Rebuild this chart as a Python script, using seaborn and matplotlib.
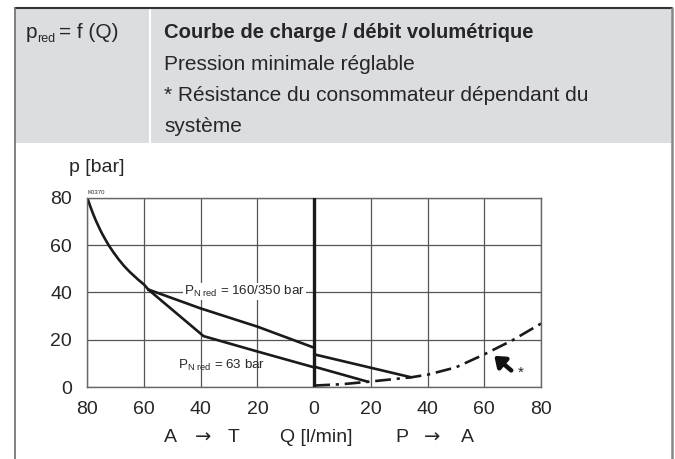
import matplotlib
matplotlib.use("Agg")
import matplotlib.pyplot as plt
import seaborn as sns
from matplotlib.patches import Rectangle
from matplotlib.lines import Line2D

# curve data (Q in l/min, A->T side negative, p in bar)
q_steep = [-80, -79, -78, -77, -76, -75, -74, -72.5, -71, -69, -67, -65, -62, -60, -58.5]
p_steep = [80, 76.5, 73.3, 70.4, 67.8, 65.3, 63.1, 60, 57.3, 54, 51.1, 48.6, 45.3, 43.3, 41.2]

q_160 = [-58.5, -40, -20, 0]
p_160 = [41.2, 33.2, 25.5, 16.6]
q_63 = [-58.5, -39, -20, 0]
p_63 = [41.2, 21.5, 15, 8.3]

q_160_pa = [0, 34.2]
p_160_pa = [13.8, 4.1]
q_63_pa = [0, 19]
p_63_pa = [8.6, 2.2]

q_load = [0, 10, 19, 34.2, 40, 50, 60, 70, 80]
p_load = [0.6, 1.2, 2.2, 4.1, 5.2, 8.3, 13.8, 19.8, 26.8]

arrow_tip = (63.5, 13.2)
arrow_tail = (69.5, 7.0)

x_ticks = [-80, -60, -40, -20, 0, 20, 40, 60, 80]
x_labels = ["80", "60", "40", "20", "0", "20", "40", "60", "80"]
y_ticks = [0, 20, 40, 60, 80]

title = "Courbe de charge / débit volumétrique"
lines_txt = ["Pression minimale réglable",
             "* Résistance du consommateur dépendant du",
             "système"]

sns.set_style("white")
plt.rcParams['font.family'] = ['Liberation Sans', 'DejaVu Sans']
plt.rcParams['mathtext.fontset'] = 'custom'
plt.rcParams['mathtext.rm'] = 'Liberation Sans'
plt.rcParams['mathtext.it'] = 'Liberation Sans'

W, H = 675, 459
fig = plt.figure(figsize=(6.75, 4.59), dpi=100)
fig.patch.set_facecolor("white")

def fx(px):
    return px / W

def fy(py):
    return 1 - py / H

# header box
fig.patches.append(Rectangle((fx(15), fy(143)), fx(672) - fx(15), (143 - 8) / H,
                             transform=fig.transFigure, facecolor="#dcdde0",
                             edgecolor="none", zorder=0))
fig.lines.append(Line2D([fx(150), fx(150)], [fy(8), fy(143)], transform=fig.transFigure,
                        color="white", lw=1.5))
fig.lines.append(Line2D([fx(15), fx(672)], [fy(8), fy(8)], transform=fig.transFigure,
                        color="#333333", lw=1.5))
fig.lines.append(Line2D([fx(14.7), fx(14.7)], [fy(8), fy(459)], transform=fig.transFigure,
                        color="#777777", lw=1.3))
fig.lines.append(Line2D([fx(672), fx(672)], [fy(8), fy(459)], transform=fig.transFigure,
                        color="#888888", lw=1.8))

# header texts
hs = 15
fig.text(fx(26), fy(32), "p", fontsize=hs, va="center", ha="left")
fig.text(fx(37.5), fy(38.5), "red", fontsize=9, va="center", ha="left")
fig.text(fx(59), fy(32), "= f (Q)", fontsize=hs, va="center", ha="left")
fig.text(fx(164), fy(32), title, fontsize=14.6, weight="bold", va="center", ha="left")
for i, t in enumerate(lines_txt):
    fig.text(fx(164), fy(64 + 31.5 * i), t, fontsize=hs, va="center", ha="left")

# chart
ax = fig.add_axes([fx(87.3), fy(387), (541 - 87.3) / W, (387 - 197.7) / H])
line_kw = dict(color="#1a1a1a", lw=1.9, sort=False, estimator=None, ax=ax)
sns.lineplot(x=q_steep, y=p_steep, **line_kw)
sns.lineplot(x=q_160, y=p_160, **line_kw)
sns.lineplot(x=q_63, y=p_63, **line_kw)
sns.lineplot(x=q_160_pa, y=p_160_pa, **line_kw)
sns.lineplot(x=q_63_pa, y=p_63_pa, **line_kw)
sns.lineplot(x=q_load, y=p_load, color="#1a1a1a", lw=1.9, sort=False, estimator=None,
             ax=ax, linestyle=(0, (6, 2.2, 1.2, 2.2)))
ax.axvline(0, color="#1a1a1a", lw=2.4, zorder=3)

ax.annotate("", xy=arrow_tip, xytext=arrow_tail,
            arrowprops=dict(arrowstyle="-|>,head_length=0.6,head_width=0.45",
                            lw=3.2, color="#111111", shrinkA=0, shrinkB=0))
ax.text(arrow_tail[0] + 2.3, arrow_tail[1] - 0.8, "*", fontsize=11, ha="left", va="center")

ax.text(-24.7, 40.5, r"P$_{\mathrm{N\ red}}$ = 160/350 bar", fontsize=9.6,
        ha="center", va="center", bbox=dict(facecolor="white", edgecolor="none", pad=0.8),
        zorder=4)
ax.text(-32.8, 9.0, r"P$_{\mathrm{N\ red}}$ = 63 bar", fontsize=9.6,
        ha="center", va="center", zorder=4)
ax.text(-80, 81.3, "K0370", fontsize=4.3, ha="left", va="bottom")

ax.set_xlim(-80, 80)
ax.set_ylim(0, 80)
ax.set_xticks(x_ticks)
ax.set_xticklabels(x_labels)
ax.set_yticks(y_ticks)
ax.grid(True, color="#555555", lw=0.9)
ax.set_axisbelow(True)
for s in ax.spines.values():
    s.set_color("#666666")
    s.set_linewidth(1.0)
ax.tick_params(axis="both", length=0, labelsize=14)
ax.tick_params(axis="x", pad=10)
ax.tick_params(axis="y", pad=11)
ax.set_xlabel("")
ax.set_ylabel("")

fs = 14
fig.text(fx(97), fy(168), "p [bar]", fontsize=fs, ha="center", va="center")
fig.text(fx(170), fy(437), "A", fontsize=fs, ha="center", va="center")
fig.text(fx(203), fy(437), "\u2192", fontsize=fs, family=["DejaVu Sans"], ha="center", va="center")
fig.text(fx(233.5), fy(437), "T", fontsize=fs, ha="center", va="center")
fig.text(fx(316), fy(437), "Q [l/min]", fontsize=fs, ha="center", va="center")
fig.text(fx(401.7), fy(437), "P", fontsize=fs, ha="center", va="center")
fig.text(fx(432), fy(437), "\u2192", fontsize=fs, family=["DejaVu Sans"], ha="center", va="center")
fig.text(fx(467.5), fy(437), "A", fontsize=fs, ha="center", va="center")

fig.savefig("out.png", dpi=100)
